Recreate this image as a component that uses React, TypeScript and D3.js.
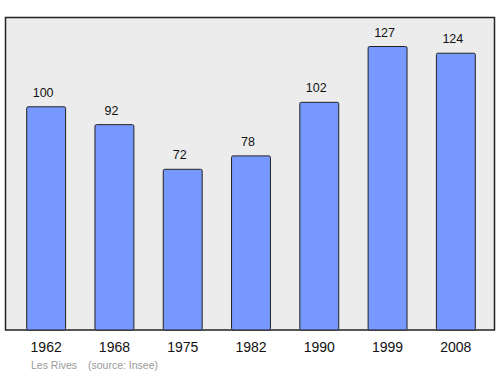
import React from "react";
import * as d3 from "d3";

const years = ["1962", "1968", "1975", "1982", "1990", "1999", "2008"];
const population = [100, 92, 72, 78, 102, 127, 124];
const footerName = "Les Rives";
const footerSource = "(source: Insee)";

export default function App() {
  const W = 500, H = 374;
  const frame = { left: 5.5, top: 17.5, right: 494.5, bottom: 330 };
  const x = d3.scaleBand<string>().domain(years).range([12, 490]).paddingInner(0.43).paddingOuter(0.215);
  const y = d3.scaleLinear().domain([0, 140]).range([frame.bottom, frame.top]);
  const font = "'Liberation Sans', Arial, sans-serif";
  return (
    <svg width={W} height={H} style={{ position: "absolute", left: 0, top: 0 }} fontFamily={font}>
      <rect x={0} y={0} width={W} height={H} fill="#ffffff" />
      <rect x={frame.left} y={frame.top} width={frame.right - frame.left} height={frame.bottom - frame.top}
        fill="#ececec" stroke="#222" strokeWidth={1.5} />
      {years.map((yr, i) => {
        const v = population[i];
        const bx = x(yr)!;
        const by = y(v);
        const cx = bx + x.bandwidth() / 2;
        return (
          <g key={yr}>
            <rect x={bx} y={by} width={x.bandwidth()} height={frame.bottom - by} rx={1.5}
              fill="#7799ff" stroke="#222" strokeWidth={1} />
            <text x={cx - 3} y={by - 10} textAnchor="middle" fontSize={12.5} fill="#111">{v}</text>
            <text x={cx} y={frame.bottom + 22} textAnchor="middle" fontSize={14} fill="#111">{yr}</text>
          </g>
        );
      })}
      <text x={31} y={369} fontSize={10.5} fill="#999">{footerName}</text>
      <text x={88} y={369} fontSize={10.5} fill="#999">{footerSource}</text>
    </svg>
  );
}
